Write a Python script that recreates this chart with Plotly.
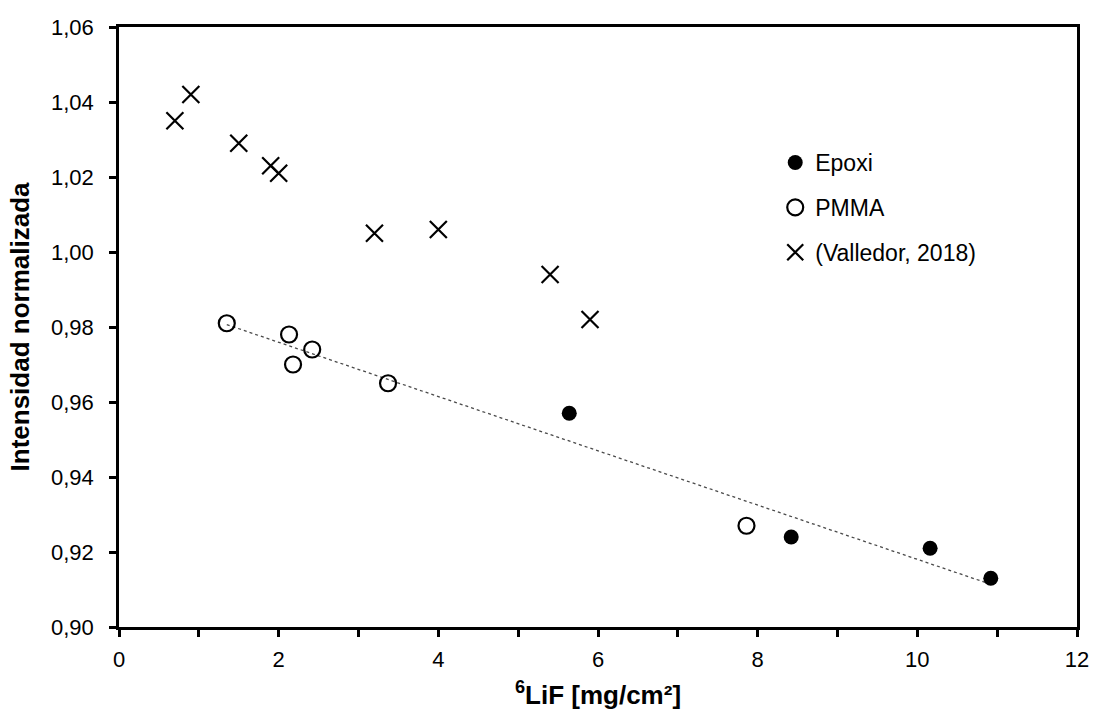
import numpy as np
import plotly.graph_objects as go

# Epoxi (filled circles)
epoxi_x = [5.64, 8.42, 10.16, 10.92]
epoxi_y = [0.957, 0.924, 0.921, 0.913]

# PMMA (open circles)
pmma_x = [1.35, 2.13, 2.18, 2.42, 3.37, 7.86]
pmma_y = [0.981, 0.978, 0.970, 0.974, 0.965, 0.927]

# (Valledor, 2018) (crosses)
vall_x = [0.7, 0.9, 1.5, 1.9, 2.0, 3.2, 4.0, 5.4, 5.9]
vall_y = [1.035, 1.042, 1.029, 1.023, 1.021, 1.005, 1.006, 0.994, 0.982]

x_ticks = [0, 2, 4, 6, 8, 10, 12]
y_ticks = [0.90, 0.92, 0.94, 0.96, 0.98, 1.00, 1.02, 1.04, 1.06]

FONT = "Arial, Liberation Sans, sans-serif"

# linear trend through Epoxi + PMMA
all_x = np.array(epoxi_x + pmma_x)
all_y = np.array(epoxi_y + pmma_y)
slope, intercept = np.polyfit(all_x, all_y, 1)
tx = np.array([all_x.min(), all_x.max()])
ty = slope * tx + intercept

fig = go.Figure()
fig.add_trace(go.Scatter(x=tx, y=ty, mode="lines", showlegend=False,
                         line=dict(color="#4a4a4a", width=1.3, dash="dot"),
                         hoverinfo="skip"))
fig.add_trace(go.Scatter(x=epoxi_x, y=epoxi_y, mode="markers", name="Epoxi",
                         legendgroup="a",
                         marker=dict(symbol="circle", size=15, color="black")))
fig.add_trace(go.Scatter(x=pmma_x, y=pmma_y, mode="markers", name="PMMA",
                         legendgroup="b",
                         marker=dict(symbol="circle-open", size=16, color="black",
                                     line=dict(width=2.2, color="black"))))
fig.add_trace(go.Scatter(x=vall_x, y=vall_y, mode="markers", name="(Valledor, 2018)",
                         legendgroup="c",
                         marker=dict(symbol="x-thin", size=17, color="black",
                                     line=dict(width=2.2, color="black"))))

axis_common = dict(showgrid=False, zeroline=False, showline=True, linecolor="black",
                   linewidth=2.5, mirror=True, ticks="outside", ticklen=7,
                   tickwidth=2.5, tickcolor="black", automargin=False,
                   tickfont=dict(family=FONT, size=22, color="black"))

fig.update_xaxes(range=[0, 12], tickvals=x_ticks,
                 minor=dict(dtick=1, ticks="outside", ticklen=7, tickwidth=2.5,
                            tickcolor="black", showgrid=False),
                 ticklabelstandoff=4,
                 title=dict(text="<b><sup>6</sup>LiF [mg/cm²]</b>", standoff=17,
                            font=dict(family=FONT, size=26, color="black")),
                 **axis_common)
fig.update_yaxes(range=[0.90, 1.06], tickvals=y_ticks, tickformat=".2f",
                 ticklabelstandoff=11,
                 title=dict(text="<b>Intensidad normalizada</b>", standoff=14,
                            font=dict(family=FONT, size=26, color="black")),
                 **axis_common)

fig.update_layout(
    width=1095, height=710,
    margin=dict(l=119, r=18, t=27, b=83),
    plot_bgcolor="white", paper_bgcolor="white",
    separators=",.",
    font=dict(family=FONT, color="black"),
    legend=dict(x=0.685, y=0.81, xanchor="left", yanchor="top",
                font=dict(family=FONT, size=23, color="black"),
                bgcolor="rgba(0,0,0,0)", tracegroupgap=12,
                traceorder="grouped"),
)

fig.write_html("out.html")
